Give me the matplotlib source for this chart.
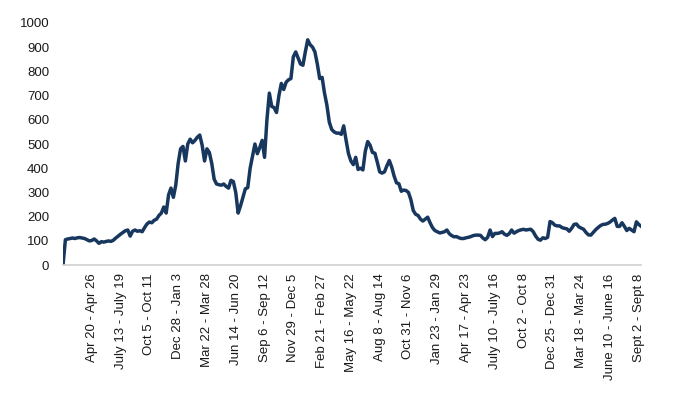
import matplotlib
matplotlib.use("Agg")
import matplotlib.pyplot as plt

# weekly values (first week is blank / zero)
values = [
    0, 105, 108, 110, 112, 110, 113, 114, 112, 110, 105, 100,
    102, 108, 100, 90, 97, 95, 98, 100, 98, 103, 112, 120,
    128, 135, 142, 145, 120, 140, 145, 140, 142, 138, 155, 170,
    178, 175, 185, 190, 205, 215, 240, 215, 290, 318, 280, 330,
    420, 480, 490, 430, 500, 520, 505, 515, 528, 537, 495, 430,
    480, 465, 420, 355, 335, 332, 330, 335, 325, 318, 350, 345,
    300, 215, 245, 280, 315, 320, 400, 450, 500, 460, 485, 515,
    445, 600, 710, 655, 650, 630, 700, 750, 725, 755, 765, 770,
    860, 880, 855, 830, 825, 880, 930, 910, 900, 880, 830, 770,
    775, 710, 660, 590, 560, 550, 545, 545, 540, 575, 515, 460,
    430, 415, 445, 395, 400, 393, 470, 510, 495, 465, 462, 425,
    385, 380, 385, 410, 432, 405, 368, 340, 336, 305, 310, 308,
    300, 270, 225, 210, 205, 190, 182, 190, 198, 175, 155, 143,
    138, 133, 135, 138, 145, 130, 122, 117, 118, 113, 110, 110,
    113, 115, 118, 122, 124, 124, 123, 112, 105, 115, 145, 118,
    131, 131, 133, 138, 128, 123, 130, 145, 132, 138, 143, 146,
    148, 145, 147, 148, 138, 120, 107, 103, 113, 110, 115, 180,
    175, 165, 162, 162, 155, 152, 150, 140, 152, 168, 170, 158,
    153, 148, 135, 125, 124, 135, 146, 155, 163, 168, 169, 172,
    178, 186, 193, 160, 160, 175, 160, 143, 152, 145, 138, 179,
    168, 160,
]

# a label every 12 weeks, starting with week 12
week_labels = [
    "Apr 20 - Apr 26", "July 13 - July 19", "Oct 5 - Oct 11", "Dec 28 - Jan 3",
    "Mar 22 - Mar 28", "Jun 14 - Jun 20", "Sep 6 - Sep 12", "Nov 29 - Dec 5",
    "Feb 21 - Feb 27", "May 16 - May 22", "Aug 8 - Aug 14", "Oct 31 - Nov 6",
    "Jan 23 - Jan 29", "Apr 17 - Apr 23", "July 10 - July 16", "Oct 2 - Oct 8",
    "Dec 25 - Dec 31", "Mar 18 - Mar 24", "June 10 - June 16", "Sept 2 - Sept 8",
]
label_weeks = [12 * (k + 1) for k in range(len(week_labels))]

plt.rcParams['font.family'] = ['Liberation Sans', 'DejaVu Sans']

fig = plt.figure(figsize=(7, 3.94), dpi=100)
ax = fig.add_axes([0.09, 0.327, 0.826, 0.615])

ax.plot(range(len(values)), values, color='#17375E', linewidth=2.5,
        solid_joinstyle='round')

ax.set_xlim(0, len(values) - 1)
ax.set_ylim(0, 1000)
ax.set_yticks(range(0, 1001, 100))
ax.set_xticks(label_weeks)
ax.set_xticklabels(week_labels, rotation=90, fontsize=9.5, color='#1a1a1a')
ax.tick_params(axis='y', labelsize=9.5, labelcolor='#1a1a1a', length=0, pad=10)
ax.tick_params(axis='x', length=0, pad=6)

for side in ['top', 'right', 'left']:
    ax.spines[side].set_visible(False)
ax.spines['bottom'].set_color('#D0D0D0')
ax.spines['bottom'].set_linewidth(1.2)

fig.savefig('out.png', dpi=100)
